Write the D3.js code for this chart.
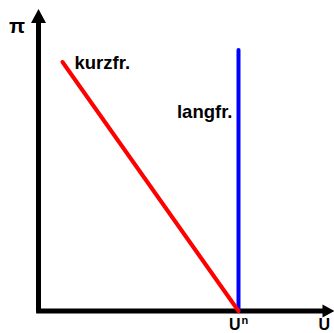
<!DOCTYPE html>
<html>
<head>
<meta charset="utf-8">
<script src="https://cdn.jsdelivr.net/npm/d3@7"></script>
<style>
  html, body { margin: 0; padding: 0; background: #fff; }
  svg { display: block; }
  text { font-family: "Liberation Sans", Arial, Helvetica, sans-serif; font-weight: bold; fill: #000; }
</style>
</head>
<body>
<svg id="chart" width="334" height="333"></svg>
<script>
// Phillips curve: short-run (kurzfr.) vs. long-run (langfr.)
const axisNames = ["U", "π"];            // horizontal, vertical
const axisExtent = [14.8, 15.1];          // arrow tips in data units
const naturalRate = 10;                   // U^n
const naturalLabel = ["U", "n"];

const shortRunU = [1.2, 10];
const shortRunPi = [12.45, 0];
const longRunU = [10, 10];
const longRunPi = [0, 13.05];
const curveLabels = ["kurzfr.", "langfr."];

const svg = d3.select("#chart");
const x = d3.scaleLinear().domain([0, 15]).range([38.5, 338.5]);
const y = d3.scaleLinear().domain([0, 15]).range([311, 11]);

const line = d3.line().x(d => x(d[0])).y(d => y(d[1]));

// axes with arrowheads
const axisW = 5;
svg.append("path")
  .attr("d", line([[0, 0], [0, axisExtent[1] - 0.6]]))
  .attr("stroke", "#000").attr("stroke-width", axisW).attr("fill", "none");
svg.append("path")
  .attr("d", line([[-0.12, 0], [axisExtent[0] - 0.5, 0]]))
  .attr("stroke", "#000").attr("stroke-width", axisW).attr("fill", "none");

const tipY = [x(0), y(axisExtent[1])];
svg.append("path")
  .attr("d", `M${tipY[0]},${tipY[1]} L${tipY[0] - 7.5},${tipY[1] + 14} L${tipY[0] + 7.5},${tipY[1] + 14} Z`)
  .attr("fill", "#000");
const tipX = [x(axisExtent[0]), y(0)];
svg.append("path")
  .attr("d", `M${tipX[0]},${tipX[1]} L${tipX[0] - 12},${tipX[1] - 6.5} L${tipX[0] - 12},${tipX[1] + 6.5} Z`)
  .attr("fill", "#000");

// long-run curve (vertical at U^n)
svg.append("path")
  .attr("d", line(d3.zip(longRunU, longRunPi)))
  .attr("stroke", "#0000ff").attr("stroke-width", 4)
  .attr("stroke-linecap", "round").attr("fill", "none");

// short-run curve
svg.append("path")
  .attr("d", line(d3.zip(shortRunU, shortRunPi)))
  .attr("stroke", "#ff0000").attr("stroke-width", 4)
  .attr("stroke-linecap", "round").attr("fill", "none");

// labels
svg.append("text")
  .attr("x", x(shortRunU[0]) + 12).attr("y", y(shortRunPi[0]) + 7)
  .attr("font-size", 18.5).text(curveLabels[0]);
svg.append("text")
  .attr("x", x(longRunU[0]) - 6).attr("y", 118)
  .attr("text-anchor", "end")
  .attr("font-size", 18.5).text(curveLabels[1]);

svg.append("text")
  .attr("x", 9).attr("y", 33)
  .attr("font-size", 21).text(axisNames[1]);

svg.append("text")
  .attr("x", x(axisExtent[0]) - 16).attr("y", 330)
  .attr("font-size", 16).text(axisNames[0]);

const un = svg.append("text")
  .attr("x", x(naturalRate) - 9.5).attr("y", 330)
  .attr("font-size", 16);
un.append("tspan").text(naturalLabel[0]);
un.append("tspan").attr("dy", -6).attr("font-size", 11).attr("dx", 1).text(naturalLabel[1]);
</script>
</body>
</html>
